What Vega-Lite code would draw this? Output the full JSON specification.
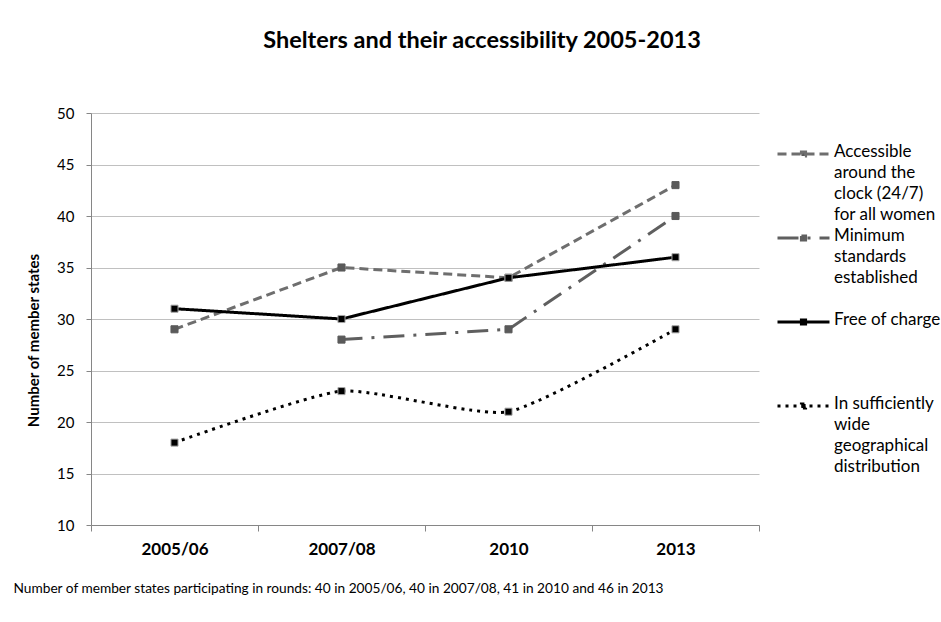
{
  "$schema": "https://vega.github.io/schema/vega-lite/v6.json",
  "autosize": "none",
  "width": 668,
  "height": 412,
  "padding": {"left": 91, "top": 113, "right": 182, "bottom": 97},
  "background": "white",
  "config": {
    "font": "Lato",
    "view": {"stroke": null}
  },
  "title": {
    "text": "Shelters and their accessibility 2005-2013",
    "font": "Lato",
    "fontSize": 23.5,
    "fontWeight": "bold",
    "color": "#000000",
    "anchor": "middle",
    "baseline": "alphabetic",
    "dx": 57,
    "offset": 35
  },
  "data": {
    "values": [
      {"period": "2005/06", "series": "Accessible around the clock (24/7) for all women", "value": 29},
      {"period": "2007/08", "series": "Accessible around the clock (24/7) for all women", "value": 35},
      {"period": "2010", "series": "Accessible around the clock (24/7) for all women", "value": 34},
      {"period": "2013", "series": "Accessible around the clock (24/7) for all women", "value": 43},
      {"period": "2007/08", "series": "Minimum standards established", "value": 28},
      {"period": "2010", "series": "Minimum standards established", "value": 29},
      {"period": "2013", "series": "Minimum standards established", "value": 40},
      {"period": "2005/06", "series": "Free of charge", "value": 31},
      {"period": "2007/08", "series": "Free of charge", "value": 30},
      {"period": "2010", "series": "Free of charge", "value": 34},
      {"period": "2013", "series": "Free of charge", "value": 36},
      {"period": "2005/06", "series": "In sufficiently wide geographical distribution", "value": 18},
      {"period": "2007/08", "series": "In sufficiently wide geographical distribution", "value": 23},
      {"period": "2010", "series": "In sufficiently wide geographical distribution", "value": 21},
      {"period": "2013", "series": "In sufficiently wide geographical distribution", "value": 29}
    ]
  },
  "encoding": {
    "x": {
      "field": "period",
      "type": "nominal",
      "bandPosition": 0.5,
      "sort": ["2005/06", "2007/08", "2010", "2013"],
      "scale": {"type": "band", "paddingInner": 0, "paddingOuter": 0},
      "axis": {
        "title": "Number of member states participating in rounds: 40 in 2005/06, 40 in 2007/08, 41 in 2010 and 46 in 2013",
        "titleFont": "Lato",
        "titleFontSize": 13.7,
        "titleFontWeight": "normal",
        "titleColor": "#000000",
        "titleAnchor": "start",
        "titleAlign": "left",
        "titleBaseline": "alphabetic",
        "titleX": -78,
        "titleY": 67,
        "labelAngle": 0,
        "labelFont": "Lato",
        "labelFontSize": 17,
        "labelFontWeight": "bold",
        "labelColor": "#000000",
        "labelPadding": 10,
        "tickBand": "extent",
        "tickSize": 6,
        "tickColor": "#868686",
        "domainColor": "#868686",
        "grid": false
      }
    },
    "y": {
      "field": "value",
      "type": "quantitative",
      "scale": {"domain": [10, 50], "nice": false, "zero": false},
      "axis": {
        "title": "Number of member states",
        "titleFont": "Lato",
        "titleFontSize": 15,
        "titleFontWeight": "bold",
        "titleColor": "#000000",
        "titleAngle": -90,
        "titleAlign": "center",
        "titleBaseline": "middle",
        "titleX": -58,
        "titleY": 227,
        "values": [10, 15, 20, 25, 30, 35, 40, 45, 50],
        "labelFont": "Lato",
        "labelFontSize": 15,
        "labelColor": "#000000",
        "labelPadding": 12,
        "tickSize": 5,
        "tickColor": "#868686",
        "domainColor": "#868686",
        "gridColor": "#c0c0c0",
        "gridWidth": 1
      }
    }
  },
  "layer": [
    {
      "transform": [{"filter": "datum.series != 'In sufficiently wide geographical distribution'"}],
      "mark": {"type": "line", "strokeWidth": 3, "interpolate": "linear"},
      "encoding": {
        "color": {
          "field": "series",
          "type": "nominal",
          "scale": {
            "domain": ["Accessible around the clock (24/7) for all women", "Minimum standards established", "Free of charge", "In sufficiently wide geographical distribution"],
            "range": ["#6e6e6e", "#5f5f5f", "#000000", "#000000"]
          },
          "legend": {
            "title": null,
            "orient": "none",
            "legendX": 685,
            "legendY": 31,
            "symbolType": "M-1,0H1M-0.08,-0.08H0.08V0.08H-0.08Z",
            "symbolSize": 2704,
            "symbolStrokeWidth": 3,
            "labelFont": "Lato",
            "labelFontSize": 17,
            "labelColor": "#000000",
            "labelLimit": 220,
            "labelOffset": 3,
            "labelBaseline": "top",
            "rowPadding": 4,
            "labelExpr": "datum.label == 'Accessible around the clock (24/7) for all women' ? ['Accessible', 'around the', 'clock (24/7)', 'for all women'] : datum.label == 'Minimum standards established' ? ['Minimum', 'standards', 'established', ' '] : datum.label == 'Free of charge' ? ['Free of charge', ' ', ' ', ' '] : ['In sufficiently', 'wide', 'geographical', 'distribution']",
            "encode": {
              "symbols": {"update": {"fill": {"scale": "color", "field": "value"}, "y": {"value": 10}}},
              "labels": {"update": {"y": {"value": 0}, "lineHeight": {"value": 21}}}
            }
          }
        },
        "strokeDash": {
          "field": "series",
          "type": "nominal",
          "scale": {
            "domain": ["Accessible around the clock (24/7) for all women", "Minimum standards established", "Free of charge", "In sufficiently wide geographical distribution"],
            "range": [[9, 5], [21, 9, 3, 9], [1, 0], [3, 5]]
          }
        }
      }
    },
    {
      "transform": [{"filter": "datum.series == 'In sufficiently wide geographical distribution'"}],
      "mark": {"type": "line", "strokeWidth": 3, "interpolate": "cardinal", "tension": 0.45},
      "encoding": {
        "color": {"field": "series", "type": "nominal"},
        "strokeDash": {"field": "series", "type": "nominal"}
      }
    },
    {
      "mark": {"type": "point", "shape": "square", "size": 50, "filled": true, "strokeWidth": 1, "opacity": 1},
      "encoding": {
        "fill": {
          "field": "series",
          "type": "nominal",
          "scale": {
            "domain": ["Accessible around the clock (24/7) for all women", "Minimum standards established", "Free of charge", "In sufficiently wide geographical distribution"],
            "range": ["#5a5a5a", "#5a5a5a", "#000000", "#000000"]
          },
          "legend": null
        },
        "stroke": {
          "field": "series",
          "type": "nominal",
          "scale": {
            "domain": ["Accessible around the clock (24/7) for all women", "Minimum standards established", "Free of charge", "In sufficiently wide geographical distribution"],
            "range": ["#5a5a5a", "#5a5a5a", "#a6a6a6", "#a6a6a6"]
          },
          "legend": null
        }
      }
    }
  ]
}
